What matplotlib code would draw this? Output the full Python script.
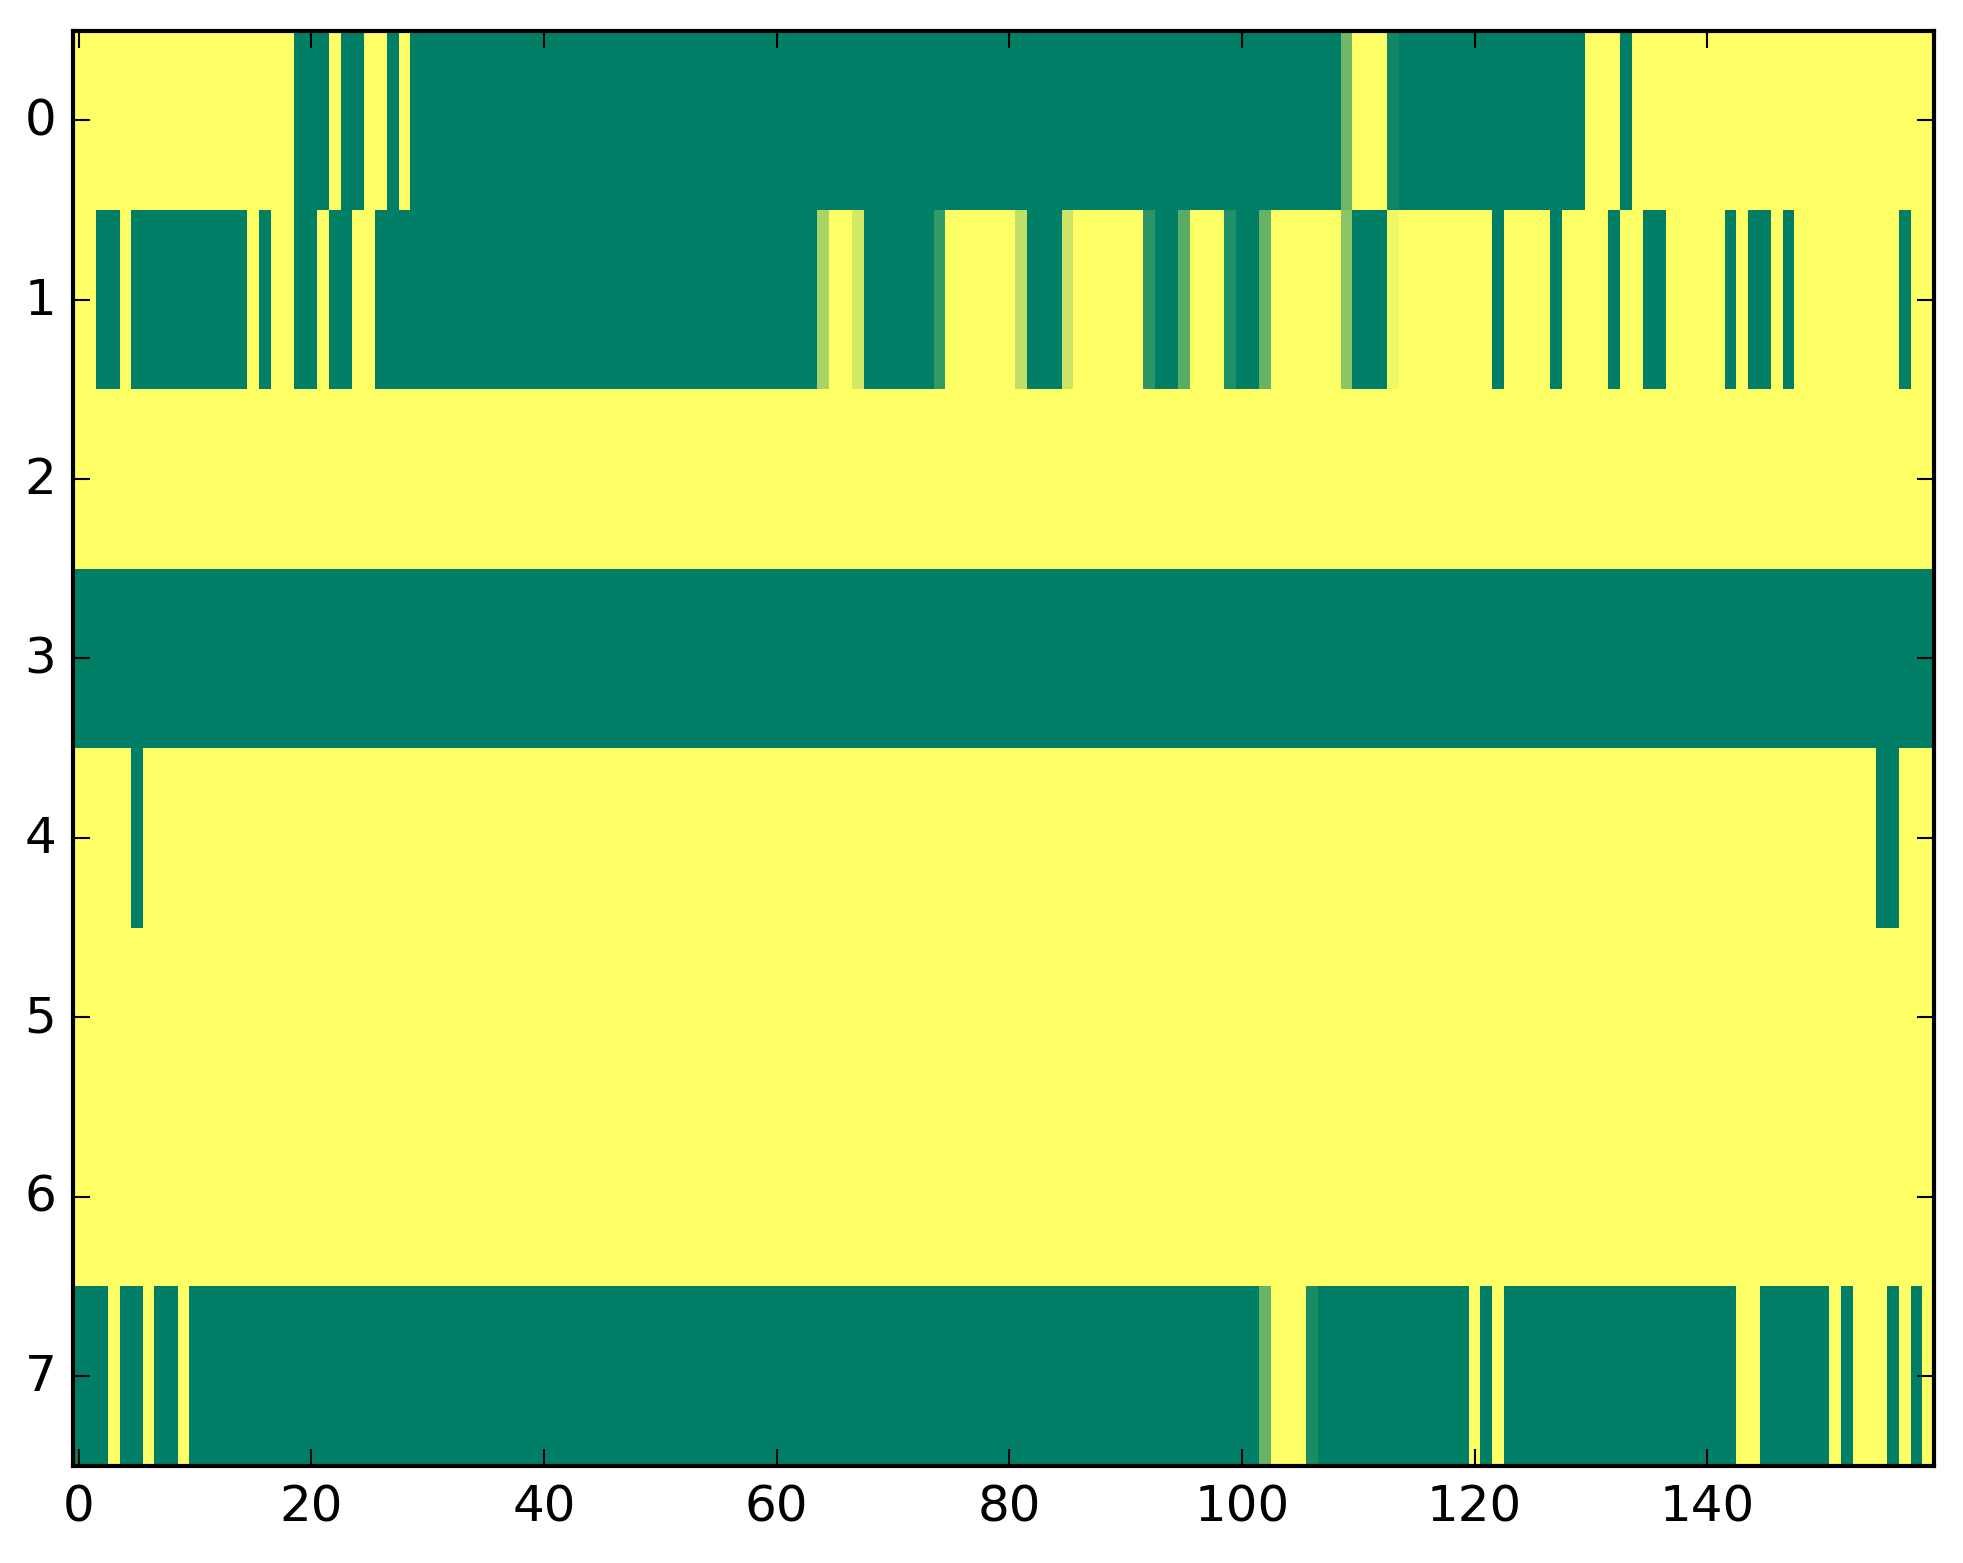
import numpy as np
import matplotlib
matplotlib.use("Agg")
import matplotlib.pyplot as plt

# ---------------------------- Data -----------------------------------
# each row is stored as run-lengths: (value, number of columns)
row0_runs = [(1, 19), (0, 3), (1, 1), (0, 2), (1, 2), (0, 1), (1, 1), (0, 80),
             (0.44, 1), (1, 3), (0.06, 1), (0, 16), (1, 3), (0, 1), (1, 26)]
row1_runs = [(1, 2), (0, 2), (1, 1), (0, 10), (1, 1), (0, 1), (1, 2), (0, 2),
             (1, 1), (0, 2), (1, 2), (0, 38), (0.66, 1), (1, 2), (0.83, 1),
             (0, 6), (0.2, 1), (1, 6), (0.75, 1), (0, 3), (0.8, 1), (1, 6),
             (0.17, 1), (0, 2), (0.35, 1), (1, 3), (0.13, 1), (0, 2), (0.4, 1),
             (1, 6), (0.55, 1), (0, 3), (0.94, 1), (1, 8), (0, 1), (1, 4),
             (0, 1), (1, 4), (0, 1), (1, 2), (0, 2), (1, 5), (0, 1), (1, 1),
             (0, 2), (1, 1), (0, 1), (1, 9), (0, 1), (1, 2)]
row2_runs = [(1, 160)]
row3_runs = [(0, 160)]
row4_runs = [(1, 5), (0, 1), (1, 149), (0, 2), (1, 3)]
row5_runs = [(1, 160)]
row6_runs = [(1, 160)]
row7_runs = [(0, 3), (1, 1), (0, 2), (1, 1), (0, 2), (1, 1), (0, 92), (0.41, 1),
             (1, 3), (0.1, 1), (0, 13), (1, 1), (0, 1), (1, 1), (0, 20), (1, 2),
             (0, 6), (1, 1), (0, 1), (1, 3), (0, 1), (1, 1), (0, 1), (1, 1)]

all_runs = [row0_runs, row1_runs, row2_runs, row3_runs,
            row4_runs, row5_runs, row6_runs, row7_runs]

x_ticks = [0, 20, 40, 60, 80, 100, 120, 140]
y_ticks = [0, 1, 2, 3, 4, 5, 6, 7]


def expand(runs):
    vals = [v for v, n in runs]
    counts = [n for v, n in runs]
    return np.repeat(vals, counts)


grid = np.vstack([expand(r) for r in all_runs])

# ---------------------------- Plot -----------------------------------
plt.style.use("classic")
plt.rcParams["font.family"] = ["DejaVu Sans"]
plt.rcParams["font.size"] = 12

W, H, DPI = 1963, 1564, 300
fig = plt.figure(figsize=(W / DPI, H / DPI), dpi=DPI, facecolor="white")
ax = fig.add_axes([73 / W, 1 - 1466.6 / H, 1861 / W, 1435 / H])

ax.imshow(grid, cmap="summer", interpolation="nearest", aspect="auto",
          vmin=0, vmax=1)
ax.set_xlim(-0.5, grid.shape[1] - 0.5)
ax.set_ylim(grid.shape[0] - 0.5, -0.5)
ax.set_xticks(x_ticks)
ax.set_yticks(y_ticks)

fig.savefig("out.png", dpi=DPI, facecolor="white")
